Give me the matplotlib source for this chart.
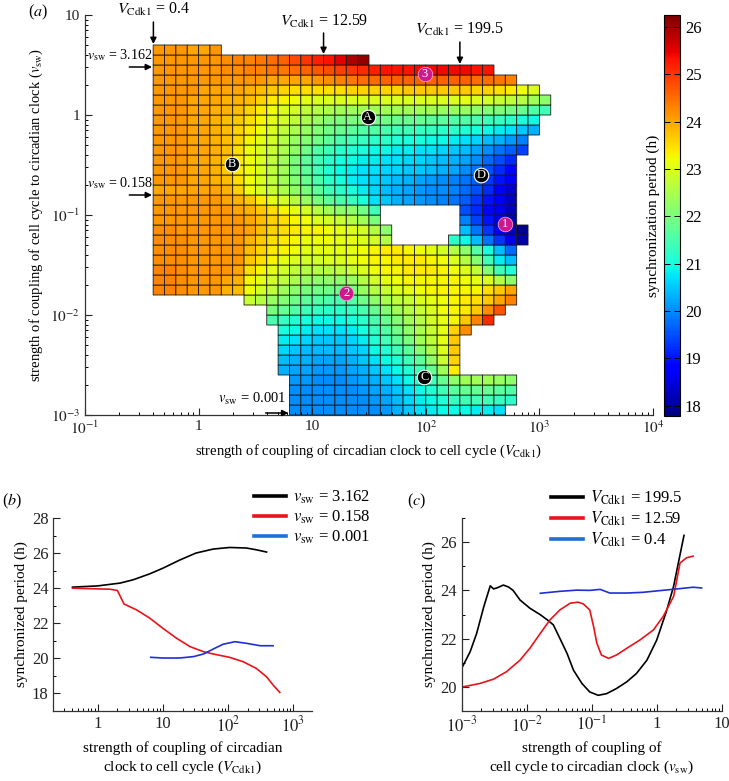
import numpy as np
import matplotlib
matplotlib.use('Agg')
import matplotlib.pyplot as plt
from matplotlib.ticker import FixedLocator, LogLocator, NullFormatter
from matplotlib.lines import Line2D

plt.rcParams['font.family'] = ['Liberation Serif', 'DejaVu Serif']
plt.rcParams['mathtext.fontset'] = 'stix'

# ---------------- data: panel (a) heat map ----------------
# grid: column c covers log10(V_Cdk1) in [c/10, (c+1)/10], row r covers log10(v_sw) in [r/10, (r+1)/10]
col_exps = np.arange(-4, 32)      # column edges (x10 of log10 V_Cdk1)
row_exps = np.arange(-30, 8)      # row edges (x10 of log10 v_sw)
# (row r, first column c, values left->right; '-' = no synchronization)
period_rows = [
 (6, -4, "24.1 24.1 24.1 24.0 24.0 24.1"),
 (5, -4, "24.1 24.1 24.1 24.1 24.1 24.1 24.2 24.3 24.3 24.4 24.5 24.6 24.8 25.0 25.2 25.3 25.5 25.9 26.1"),
 (4, -4, "24.1 24.1 24.1 24.1 24.1 24.1 24.2 24.2 24.3 24.3 24.4 24.4 24.5 24.6 24.7 24.8 24.9 "
         "25.0 25.1 25.2 25.3 25.3 25.3 25.4 25.4 25.4 25.4 25.4 25.3 25.3"),
 (3, -4, "24.1 24.1 24.1 24.1 24.1 24.1 24.1 24.1 24.1 24.1 24.0 24.0 24.0 24.0 24.1 24.2 24.3 "
         "24.4 24.5 24.5 24.6 24.6 24.6 24.6 24.6 24.6 24.6 24.6 24.5 24.5 24.4 24.3"),
 (2, -4, "24.1 24.1 24.1 24.1 24.0 24.0 24.0 24.0 23.9 23.8 23.7 23.6 23.5 23.5 23.5 23.5 23.5 "
         "23.6 23.6 23.6 23.6 23.6 23.7 23.7 23.7 23.7 23.7 23.7 23.6 23.6 23.5 23.4 23.2 23.0"),
 (1, -4, "24.1 24.1 24.1 24.0 24.0 24.0 23.9 23.9 23.8 23.6 23.4 23.3 23.2 23.1 23.0 23.0 23.0 "
         "23.0 23.0 23.0 23.0 23.0 23.0 23.0 23.0 23.0 23.0 23.1 23.0 22.9 22.8 22.7 22.6 22.4 22.2"),
 (0, -4, "24.1 24.1 24.1 24.0 24.0 23.9 23.9 23.8 23.6 23.4 23.2 23.0 22.9 22.7 22.6 22.5 22.4 "
         "22.4 22.4 22.4 22.4 22.4 22.4 22.4 22.4 22.3 22.3 22.3 22.2 22.1 22.0 21.9 21.8 21.6 21.4"),
 (-1, -4, "24.1 24.1 24.1 24.0 24.0 23.9 23.8 23.7 23.5 23.3 23.1 22.9 22.7 22.5 22.3 22.1 22.0 "
          "22.0 22.0 21.9 21.9 21.8 21.8 21.8 21.7 21.7 21.6 21.6 21.5 21.4 21.3 21.2 21.0 20.9"),
 (-2, -4, "24.1 24.1 24.1 24.0 24.0 23.9 23.8 23.6 23.4 23.2 23.0 22.7 22.5 22.3 22.1 21.9 21.8 "
          "21.7 21.6 21.6 21.5 21.4 21.4 21.3 21.3 21.2 21.2 21.1 21.0 20.9 20.8 20.7 20.5 20.3"),
 (-3, -4, "24.1 24.1 24.1 24.0 24.0 23.9 23.8 23.6 23.3 23.1 22.9 22.6 22.3 22.1 21.9 21.7 21.5 "
          "21.4 21.3 21.2 21.2 21.1 21.0 21.0 20.9 20.9 20.8 20.7 20.6 20.4 20.3 20.1 19.9"),
 (-4, -4, "24.1 24.1 24.1 24.0 24.0 23.9 23.8 23.5 23.2 23.0 22.8 22.5 22.2 21.9 21.6 21.4 21.2 "
          "21.1 21.0 20.9 20.9 20.8 20.8 20.7 20.7 20.6 20.5 20.4 20.2 20.0 19.8 19.6 19.4"),
 (-5, -4, "24.1 24.1 24.1 24.0 24.0 23.9 23.7 23.4 23.2 23.0 22.7 22.4 22.0 21.7 21.4 21.2 21.0 "
          "20.9 20.8 20.8 20.7 20.7 20.6 20.6 20.5 20.4 20.3 20.2 20.0 19.7 19.5 19.2"),
 (-6, -4, "24.1 24.1 24.1 24.0 24.0 23.9 23.7 23.4 23.2 23.0 22.7 22.4 22.0 21.7 21.4 21.1 20.9 "
          "20.8 20.7 20.7 20.6 20.6 20.5 20.5 20.4 20.3 20.2 20.0 19.8 19.5 19.2 18.9"),
 (-7, -4, "24.1 24.1 24.1 24.0 24.0 23.9 23.8 23.5 23.2 23.0 22.7 22.4 22.1 21.8 21.5 21.2 21.0 "
          "20.8 20.7 20.6 20.5 20.4 20.3 20.2 20.1 20.0 19.9 19.8 19.6 19.3 19.0 18.7"),
 (-8, -4, "24.0 24.0 24.0 24.0 24.0 24.0 23.9 23.6 23.2 23.0 22.8 22.5 22.2 22.0 21.7 21.4 21.2 "
          "21.0 20.8 20.6 20.4 20.3 20.2 20.1 20.0 20.0 19.9 19.7 19.5 19.2 18.8 18.4"),
 (-9, -4, "24.1 24.1 24.1 24.1 24.1 24.1 24.0 23.9 23.7 23.4 23.1 22.9 22.6 22.3 22.0 21.7 21.5 "
          "21.3 21.0 20.7 20.5 20.3 20.2 20.1 20.0 19.9 19.8 19.6 19.3 19.0 18.7 18.3"),
 (-10, -4, "24.1 24.1 24.1 24.1 24.1 24.1 24.1 24.0 23.9 23.7 23.5 23.3 23.1 22.9 22.6 22.4 22.2 "
           "22.2 21.9 21.4 - - - - - - - 19.5 19.2 18.9 18.6 18.2"),
 (-11, -4, "24.1 24.1 24.1 24.1 24.1 24.1 24.1 24.1 24.0 23.8 23.6 23.5 23.3 23.2 23.0 22.9 22.8 "
           "22.6 22.4 22.0 - - - - - - - 19.9 19.4 19.0 18.6 18.1"),
 (-12, -4, "24.2 24.2 24.1 24.1 24.1 24.1 24.1 24.1 24.0 23.8 23.6 23.5 23.4 23.3 23.3 23.2 23.1 "
           "23.0 22.9 22.6 22.2 - - - - - - 20.4 19.8 19.3 18.8 18.3 17.9"),
 (-13, -4, "24.2 24.2 24.2 24.1 24.1 24.1 24.1 24.1 23.9 23.7 23.5 23.4 23.3 23.2 23.2 23.2 23.1 "
           "23.1 23.0 22.9 22.6 - - - - - 21.2 20.9 20.4 19.8 19.3 18.6 18.1"),
 (-14, -4, "24.2 24.2 24.2 24.1 24.1 24.1 24.1 24.1 23.8 23.6 23.4 23.3 23.2 23.1 23.1 23.1 23.1 "
           "23.1 23.2 23.3 23.4 23.4 23.3 23.2 23.1 22.9 22.6 22.2 21.6 21.0 20.4 19.7"),
 (-15, -4, "24.2 24.2 24.2 24.1 24.1 24.1 24.1 24.1 23.7 23.5 23.3 23.1 23.0 22.9 22.9 23.0 23.0 "
           "23.1 23.2 23.3 23.3 23.4 23.4 23.4 23.3 23.2 23.0 22.6 22.1 21.4 20.8 20.4"),
 (-16, -4, "24.3 24.3 24.2 24.1 24.1 24.1 24.1 24.0 23.5 23.3 23.1 22.9 22.7 22.6 22.6 22.6 22.7 "
           "22.8 23.0 23.2 23.3 23.3 23.4 23.4 23.4 23.3 23.2 23.0 22.7 22.1 21.4 21.1"),
 (-17, -4, "24.3 24.3 24.2 24.1 24.1 24.1 24.0 23.9 23.3 23.1 22.9 22.7 22.5 22.3 22.2 22.2 22.2 "
           "22.3 22.6 22.9 23.1 23.2 23.3 23.3 23.3 23.3 23.3 23.2 23.1 23.0 22.6 22.2"),
 (-18, -4, "24.3 24.3 24.2 24.1 24.1 24.1 23.9 23.8 23.2 22.9 22.7 22.4 22.2 22.0 21.9 21.9 21.9 "
           "22.0 22.3 22.6 22.8 23.0 23.1 23.2 23.3 23.3 23.3 23.3 23.3 23.5 23.7 24.0"),
 (-19, 4, "22.8 22.6 22.3 22.1 21.9 21.7 21.6 21.5 21.5 "
          "21.6 21.9 22.2 22.5 22.7 22.8 23.0 23.1 23.2 23.3 23.4 23.5 23.7 24.0 24.3"),
 (-20, 6, "22.0 21.8 21.6 21.4 21.3 21.2 21.2 "
          "21.3 21.5 21.8 22.1 22.4 22.6 22.8 23.0 23.2 23.3 23.4 23.7 24.2 24.7"),
 (-21, 6, "21.5 21.3 21.1 21.0 20.9 20.9 20.9 "
          "21.0 21.2 21.5 21.8 22.1 22.4 22.6 22.9 23.1 23.3 23.7 24.3 25.1"),
 (-22, 7, "21.0 20.9 20.8 20.7 20.7 20.7 20.8 21.0 21.3 21.6 21.9 22.2 22.5 22.8 23.1 23.6 24.2"),
 (-23, 7, "20.8 20.7 20.6 20.5 20.5 20.5 20.6 20.8 21.1 21.4 21.7 22.0 22.4 22.7 23.1 23.7"),
 (-24, 7, "20.6 20.5 20.4 20.4 20.4 20.4 20.5 20.6 20.9 21.1 21.4 21.7 22.1 22.5 23.0 23.7"),
 (-25, 7, "20.4 20.3 20.3 20.2 20.2 20.2 20.3 20.5 20.7 20.9 21.1 21.4 21.7 22.2 22.8 23.6"),
 (-26, 7, "20.3 20.2 20.2 20.1 20.1 20.1 20.2 20.3 20.5 20.7 20.9 21.1 21.4 21.8 22.4 23.4"),
 (-27, 8, "20.1 20.1 20.0 20.0 20.0 "
          "20.1 20.2 20.3 20.5 20.7 20.9 21.1 21.4 21.8 22.2 22.4 22.4 22.4 22.3 22.2"),
 (-28, 8, "20.0 20.0 20.0 20.0 20.0 "
          "20.0 20.1 20.2 20.3 20.5 20.7 20.9 21.1 21.4 21.7 21.8 21.8 21.8 21.7 21.6"),
 (-29, 8, "20.0 20.0 20.0 20.0 20.0 "
          "20.0 20.0 20.1 20.2 20.4 20.6 20.8 20.9 21.1 21.3 21.4 21.4 21.4 21.3 21.2"),
 (-30, 8, "20.0 20.0 20.0 20.0 20.0 "
          "20.0 20.0 20.0 20.1 20.3 20.5 20.7 20.8 20.9 20.9 20.9 20.8 20.8 20.7"),
]
period_min, period_max = 17.78, 26.25
cbar_ticks = [18, 19, 20, 21, 22, 23, 24, 25, 26]

# labelled points
letter_labels = ['A', 'B', 'C', 'D']
letter_V = [30.8, 1.97, 97.0, 306.0]
letter_v = [0.96, 0.32, 0.00238, 0.25]
number_labels = ['1', '2', '3']
number_V = [498.0, 19.9, 98.0]
number_v = [0.081, 0.0165, 2.6]

# ---------------- data: panel (b) ----------------
b_black_V = [0.41, 1.0, 2.2, 3.5, 6.3, 10, 18, 32, 59, 105, 190, 270, 389]
b_black_T = [24.06, 24.13, 24.29, 24.48, 24.82, 25.14, 25.6, 26.0, 26.23, 26.32, 26.29, 26.19, 26.06]
b_red_V = [0.41, 1.0, 1.55, 2.0, 2.53, 3.95, 6.3, 10, 16.3, 26, 42, 59, 105, 170, 270, 389, 490, 620]
b_red_T = [24.0, 23.96, 23.94, 23.87, 23.1, 22.76, 22.29, 21.71, 21.14, 20.67, 20.38, 20.25, 20.06,
           19.81, 19.43, 18.95, 18.48, 18.06]
b_blue_V = [6.5, 10, 18, 29.5, 42, 59, 83, 127, 190, 310, 490]
b_blue_T = [20.06, 20.02, 20.02, 20.1, 20.25, 20.53, 20.8, 20.95, 20.86, 20.72, 20.72]
b_labels = ['3.162', '0.158', '0.001']

# ---------------- data: panel (c) ----------------
c_black_v = [0.00104, 0.00135, 0.0017, 0.00219, 0.00275, 0.00309, 0.00355, 0.00437, 0.00525, 0.00617,
             0.0079, 0.0112, 0.0162, 0.0214, 0.0257, 0.0324, 0.0417, 0.0525, 0.0708, 0.0933, 0.126,
             0.17, 0.24, 0.347, 0.49, 0.708, 1.0, 1.41, 1.82, 2.29, 2.63]
c_black_T = [20.86, 21.46, 22.22, 23.33, 24.19, 24.06, 24.11, 24.22, 24.14, 24.0, 23.6, 23.26, 22.99,
             22.75, 22.57, 22.01, 21.39, 20.69, 20.14, 19.79, 19.65, 19.72, 19.93, 20.21, 20.56, 21.11,
             21.94, 23.13, 24.17, 25.49, 26.28]
c_red_v = [0.00104, 0.0019, 0.00309, 0.0049, 0.0079, 0.0112, 0.0162, 0.0229, 0.0324, 0.0468, 0.0617,
           0.0741, 0.0933, 0.107, 0.120, 0.141, 0.182, 0.24, 0.347, 0.55, 0.89, 1.26, 1.82, 2.29, 2.88, 3.63]
c_red_T = [20.0, 20.14, 20.32, 20.63, 21.11, 21.6, 22.22, 22.78, 23.19, 23.47, 23.51, 23.44, 23.19, 22.5,
           21.81, 21.32, 21.18, 21.32, 21.6, 21.94, 22.36, 22.92, 23.75, 25.14, 25.35, 25.42]
c_blue_v = [0.0162, 0.0324, 0.0589, 0.0933, 0.135, 0.19, 0.347, 0.617, 1.12, 2.04, 3.63, 4.9]
c_blue_T = [23.88, 23.96, 24.01, 24.0, 24.04, 23.89, 23.89, 23.92, 23.99, 24.06, 24.13, 24.1]
c_labels = ['199.5', '12.59', '0.4']

# ---------------- figure ----------------
W, H = 729, 781
fig = plt.figure(figsize=(W / 100, H / 100), dpi=100)


def rect(x0, y0, x1, y1):
    return [x0 / W, 1 - y1 / H, (x1 - x0) / W, (y1 - y0) / H]


def pow_label(v):
    e = int(round(np.log10(v)))
    if e == 0:
        return '1'
    if e == 1:
        return '10'
    return r'$10^{%d}$' % e


def style_axes(a, labelsize=11):
    for s in ('top', 'right'):
        a.spines[s].set_visible(False)
    for s in ('left', 'bottom'):
        a.spines[s].set_linewidth(0.9)
        a.spines[s].set_color('#333333')
    a.tick_params(which='major', direction='in', length=5, width=0.8, labelsize=labelsize, colors='#222222')
    a.tick_params(which='minor', direction='in', length=2.5, width=0.7)


BLACK, RED, BLUE = '#000000', '#e8141b', '#1f2fd6'
LEG_BLUE = '#1e6fd9'

# ----- panel (a)
ax = fig.add_axes(rect(85, 15, 653, 415))
ncol = len(col_exps) - 1
nrow = len(row_exps) - 1
Z = np.full((nrow, ncol), np.nan)
for r, c0, s in period_rows:
    for k, tok in enumerate(s.split()):
        if tok != '-':
            Z[r - row_exps[0], c0 - col_exps[0] + k] = float(tok)
xe = 10.0 ** (col_exps / 10.0)
ye = 10.0 ** (row_exps / 10.0)
mesh = ax.pcolor(xe, ye, np.ma.masked_invalid(Z), cmap='jet', vmin=period_min, vmax=period_max,
                 edgecolors='#1a1a1a', linewidth=0.6)
ax.set_xscale('log')
ax.set_yscale('log')
ax.set_xlim(1e-1, 1e4)
ax.set_ylim(1e-3, 10)
style_axes(ax, 11)
xt = [1e-1, 1, 10, 1e2, 1e3, 1e4]
yt = [1e-3, 1e-2, 1e-1, 1, 10]
ax.xaxis.set_major_locator(FixedLocator(xt))
ax.set_xticklabels([pow_label(v) for v in xt])
ax.yaxis.set_major_locator(FixedLocator(yt))
ax.set_yticklabels([pow_label(v) for v in yt])
ax.xaxis.set_minor_locator(LogLocator(base=10, subs=np.arange(2, 10), numticks=20))
ax.yaxis.set_minor_locator(LogLocator(base=10, subs=np.arange(2, 10), numticks=20))
ax.xaxis.set_minor_formatter(NullFormatter())
ax.yaxis.set_minor_formatter(NullFormatter())
ax.set_xlabel(r'strength of coupling of circadian clock to cell cycle ($V_{\rm Cdk1}$)', fontsize=10.5,
              labelpad=4)
ax.set_ylabel(r'strength of coupling of cell cycle to circadian clock ($v_{\rm sw}$)', fontsize=10.5,
              labelpad=4)

# markers
ax.scatter(letter_V, letter_v, s=110, c='black', edgecolors='white', linewidths=0.8, zorder=5)
for t, x, y in zip(letter_labels, letter_V, letter_v):
    ax.text(x, y, t, color='white', ha='center', va='center', fontsize=9, zorder=6)
ax.scatter(number_V, number_v, s=110, c='#cc1a8e', edgecolors='#f0a0d0', linewidths=0.6, zorder=5)
for t, x, y in zip(number_labels, number_V, number_v):
    ax.text(x, y, t, color='white', ha='center', va='center', fontsize=9, zorder=6)

# annotations (arrows)
ap = dict(arrowstyle='-|>', color='black', lw=1.1, mutation_scale=9, shrinkA=0, shrinkB=0)
ax.annotate('', xy=(0.4, 10 ** 0.71), xytext=(0.4, 10 ** 0.93), arrowprops=ap, annotation_clip=False)
ax.text(0.4, 10 ** 1.06, r'$V_{\rm Cdk1}$ = 0.4', ha='center', va='center', fontsize=11.5, clip_on=False)
ax.annotate('', xy=(10 ** 1.1, 10 ** 0.61), xytext=(10 ** 1.1, 10 ** 0.82), arrowprops=ap, annotation_clip=False)
ax.text(10 ** 1.1, 10 ** 0.935, r'$V_{\rm Cdk1}$ = 12.59', ha='center', va='center', fontsize=11.5)
ax.annotate('', xy=(10 ** 2.3, 10 ** 0.51), xytext=(10 ** 2.3, 10 ** 0.73), arrowprops=ap, annotation_clip=False)
ax.text(10 ** 2.3, 10 ** 0.855, r'$V_{\rm Cdk1}$ = 199.5', ha='center', va='center', fontsize=11.5)
ax.annotate('', xy=(10 ** -0.41, 10 ** 0.48), xytext=(10 ** -0.61, 10 ** 0.48), arrowprops=ap)
ax.text(10 ** -0.40, 10 ** 0.60, r'$v_{\rm sw}$ = 3.162', ha='right', va='center', fontsize=10.2)
ax.annotate('', xy=(10 ** -0.41, 10 ** -0.8), xytext=(10 ** -0.61, 10 ** -0.8), arrowprops=ap)
ax.text(10 ** -0.40, 10 ** -0.68, r'$v_{\rm sw}$ = 0.158', ha='right', va='center', fontsize=10.2)
ax.annotate('', xy=(10 ** 0.79, 10 ** -2.98), xytext=(10 ** 0.59, 10 ** -2.98), arrowprops=ap)
ax.text(10 ** 0.77, 10 ** -2.84, r'$v_{\rm sw}$ = 0.001', ha='right', va='center', fontsize=10.5)

fig.text(38 / W, 1 - 12 / H, r'($a$)', ha='center', va='center', fontsize=11.5)

# colorbar
cax = fig.add_axes(rect(664, 15, 680, 416))
cb = fig.colorbar(mesh, cax=cax, ticks=cbar_ticks)
cb.outline.set_linewidth(0.8)
cax.tick_params(which='major', direction='in', length=4, width=0.7, left=True, right=True, labelsize=12)
cax.minorticks_off()
cb.set_label('synchronization period (h)', fontsize=11)
cax.yaxis.set_label_position('left')
cax.yaxis.labelpad = 3

# ----- panel (b)
axb = fig.add_axes(rect(53.3, 518, 311.7, 711))
axb.plot(b_black_V, b_black_T, color=BLACK, lw=1.2)
axb.plot(b_red_V, b_red_T, color=RED, lw=1.2)
axb.plot(b_blue_V, b_blue_T, color=BLUE, lw=1.2)
axb.set_xscale('log')
axb.set_xlim(0.208, 1915)
axb.set_ylim(17, 28)
style_axes(axb, 12)
xtb = [1, 10, 1e2, 1e3]
axb.xaxis.set_major_locator(FixedLocator(xtb))
axb.set_xticklabels([pow_label(v) for v in xtb])
axb.xaxis.set_minor_locator(LogLocator(base=10, subs=np.arange(2, 10), numticks=20))
axb.xaxis.set_minor_formatter(NullFormatter())
axb.yaxis.set_major_locator(FixedLocator([18, 20, 22, 24, 26, 28]))
axb.yaxis.set_minor_locator(FixedLocator([17, 19, 21, 23, 25, 27]))
axb.set_xlabel('strength of coupling of circadian\n' + r'clock to cell cycle ($V_{\rm Cdk1}$)',
               fontsize=11, labelpad=4, linespacing=1.3)
axb.set_ylabel('synchronized period (h)', fontsize=11, labelpad=3)
hb = [Line2D([], [], color=c, lw=2.6) for c in (BLACK, RED, LEG_BLUE)]
fig.legend(hb, [r'$v_{\rm sw}$ = ' + s for s in b_labels], loc='upper left',
           bbox_to_anchor=(254 / W, 1 - 489 / H), frameon=False, fontsize=12, handlelength=1.9,
           handletextpad=0.45, labelspacing=0.15, borderpad=0, borderaxespad=0)
fig.text(12 / W, 1 - 501 / H, r'($b$)', ha='center', va='center', fontsize=11.5)

# ----- panel (c)
axc = fig.add_axes(rect(461.7, 518, 721.7, 711))
axc.plot(c_black_v, c_black_T, color=BLACK, lw=1.2)
axc.plot(c_red_v, c_red_T, color=RED, lw=1.2)
axc.plot(c_blue_v, c_blue_T, color=BLUE, lw=1.2)
axc.set_xscale('log')
axc.set_xlim(1e-3, 10)
axc.set_ylim(19, 27)
style_axes(axc, 12)
xtc = [1e-3, 1e-2, 1e-1, 1, 10]
axc.xaxis.set_major_locator(FixedLocator(xtc))
axc.set_xticklabels([pow_label(v) for v in xtc])
axc.xaxis.set_minor_locator(LogLocator(base=10, subs=np.arange(2, 10), numticks=20))
axc.xaxis.set_minor_formatter(NullFormatter())
axc.yaxis.set_major_locator(FixedLocator([20, 22, 24, 26]))
axc.yaxis.set_minor_locator(FixedLocator([19, 21, 23, 25, 27]))
axc.set_xlabel('strength of coupling of\n' + r'cell cycle to circadian clock ($v_{\rm sw}$)',
               fontsize=11, labelpad=4, linespacing=1.3)
axc.set_ylabel('synchronized period (h)', fontsize=11, labelpad=3)
hc = [Line2D([], [], color=c, lw=2.6) for c in (BLACK, RED, LEG_BLUE)]
fig.legend(hc, [r'$V_{\rm Cdk1}$ = ' + s for s in c_labels], loc='upper left',
           bbox_to_anchor=(551 / W, 1 - 489 / H), frameon=False, fontsize=12, handlelength=1.9,
           handletextpad=0.45, labelspacing=0.15, borderpad=0, borderaxespad=0)
fig.text(417 / W, 1 - 501 / H, r'($c$)', ha='center', va='center', fontsize=11.5)

fig.savefig('out.png', dpi=100)
